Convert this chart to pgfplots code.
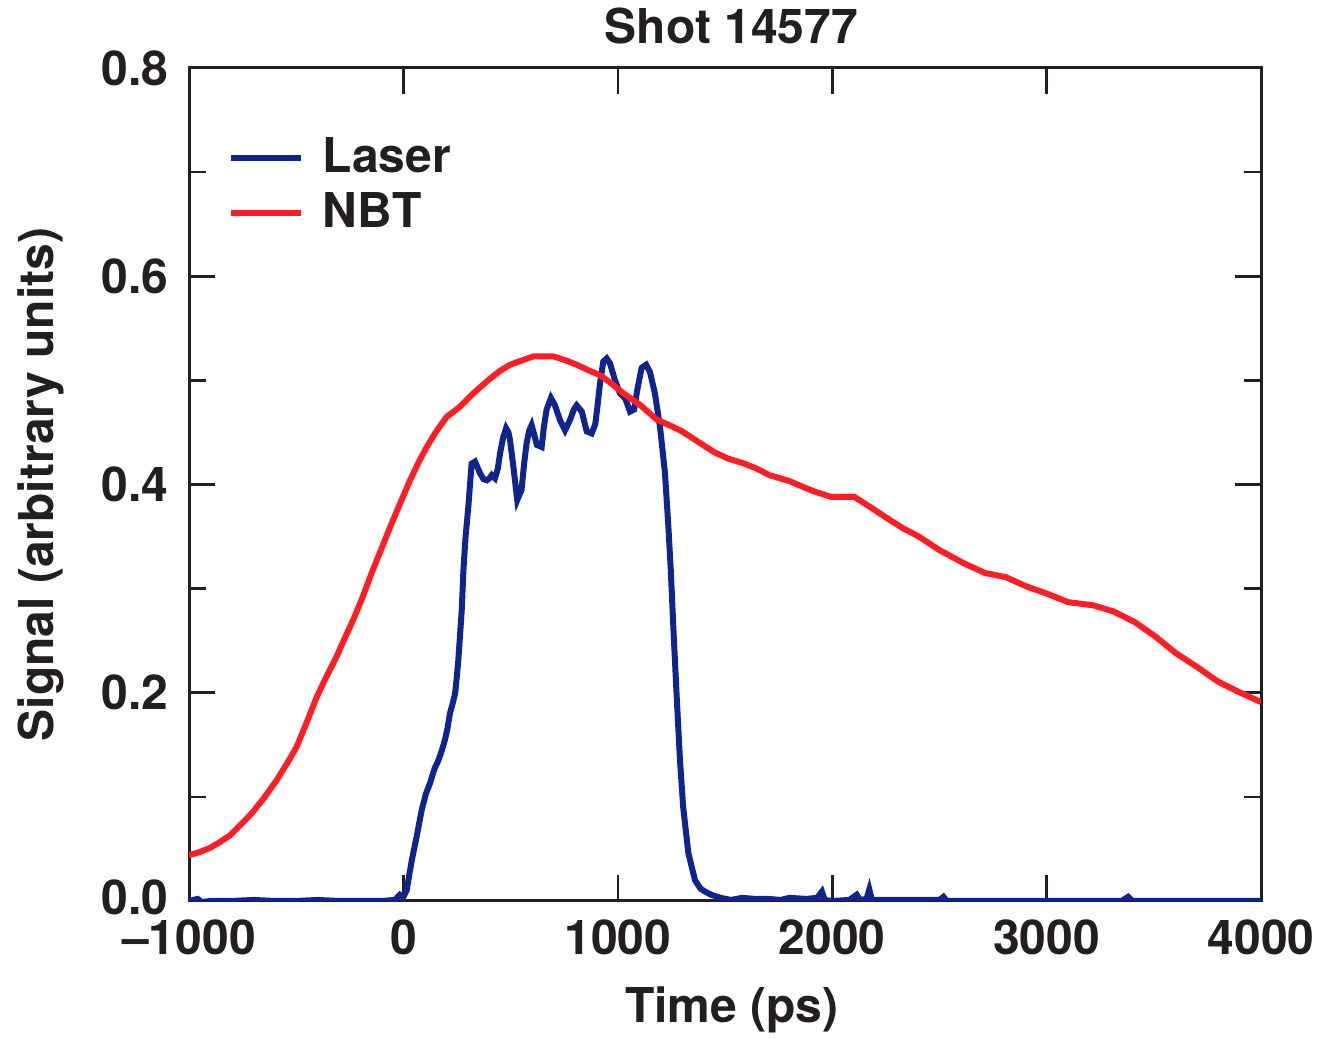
\documentclass[border=0pt]{standalone}
\usepackage{fontspec}
\setmainfont{TeX Gyre Heros}
\usepackage{pgfplots}
\pgfplotsset{compat=1.18}
\definecolor{laser}{RGB}{16,36,142}
\definecolor{nbt}{RGB}{255,30,36}
\definecolor{axisgray}{RGB}{35,31,32}
\begin{document}
\begin{tikzpicture}
\begin{axis}[
  scale only axis,
  width=268pt, height=208.25pt,
  xmin=-1000, xmax=4000, ymin=0, ymax=0.8,
  axis line style={axisgray, line width=0.75pt},
  every tick/.style={axisgray, line width=0.65pt},
  tick align=inside,
  xtick={-1000,0,1000,2000,3000,4000},
  xticklabels={\textendash1000,0,1000,2000,3000,4000},
  ytick={0,0.2,0.4,0.6,0.8},
  yticklabels={\raisebox{2pt}{0.0},0.2,0.4,0.6,0.8},
  minor ytick={0.1,0.3,0.5,0.7},
  major tick length=6.5pt,
  minor tick length=4.25pt,
  /pgf/number format/assume math mode=true,
  tick label style={font=\bfseries\fontsize{12}{14}\selectfont, text=axisgray},
  xticklabel style={yshift=-1.2pt},
  yticklabel style={xshift=-1.6pt},
  title={Shot 14577},
  title style={font=\bfseries\fontsize{12}{14}\selectfont, text=axisgray, at={(axis description cs:0.506,1.0009)}, anchor=base},
  xlabel={Time (ps)},
  xlabel style={font=\bfseries\fontsize{12}{14}\selectfont, text=axisgray, at={(axis description cs:0.5065,-0.1461)}, anchor=base},
  ylabel={Signal (arbitrary units)},
  ylabel style={font=\bfseries\fontsize{12}{14}\selectfont, text=axisgray, at={(axis description cs:-0.138,0.5)}, anchor=center, rotate=0},
  legend style={at={(axis description cs:0.0354,0.917)}, anchor=north west, draw=none, fill=none, inner sep=0pt, row sep=3.3pt, column sep=4.75pt, font=\bfseries\fontsize{12}{14}\selectfont, text=axisgray, nodes={inner sep=0pt}},
  legend cell align=left,
  legend image code/.code={\draw[#1] (0pt,0pt) -- (17.5pt,0pt);},
]
\coordinate (bl) at (rel axis cs:0,0);
\coordinate (tr) at (rel axis cs:1,1);
\addplot[laser, line width=1.5pt] coordinates {
(-1000,0.000) (-960,0.002) (-940,-0.001) (-900,0.000) (-800,0.000) (-700,0.001)
(-600,0.000) (-500,0.000) (-400,0.001) (-300,0.000) (-200,0.000) (-100,0.000)
(-40,0.001) (-16,0.006) (0,0.004) (15,0.010) (39,0.039) (62,0.062) (85,0.087)
(105,0.103) (124,0.113) (145,0.127) (163,0.135) (180,0.145) (194,0.155)
(205,0.165) (217,0.180) (230,0.190) (241,0.199) (249,0.215) (256,0.231)
(264,0.255) (272,0.279) (280,0.318) (290,0.350) (303,0.379) (318,0.420)
(334,0.422) (357,0.411) (374,0.405) (389,0.404) (402,0.406) (412,0.409)
(427,0.406) (440,0.415) (451,0.430) (465,0.445) (479,0.454) (490,0.450)
(497,0.443) (513,0.417) (531,0.385) (551,0.395) (563,0.420) (575,0.440)
(587,0.452) (598,0.457) (610,0.448) (622,0.438) (645,0.436) (655,0.455)
(668,0.472) (688,0.483) (707,0.476) (730,0.462) (754,0.452) (777,0.462)
(795,0.472) (808,0.476) (832,0.470) (855,0.451) (878,0.449) (895,0.458)
(905,0.475) (917,0.497) (932,0.518) (948,0.521) (964,0.516) (987,0.500)
(1010,0.4875) (1034,0.483) (1057,0.470) (1076,0.472) (1091,0.491) (1111,0.512)
(1132,0.515) (1150,0.508) (1173,0.4875) (1197,0.455) (1220,0.411) (1236,0.359)
(1247,0.318) (1259,0.263) (1274,0.199) (1290,0.135) (1305,0.090) (1329,0.046)
(1360,0.020) (1385,0.012) (1407,0.009) (1435,0.006) (1480,0.003) (1528,0.001)
(1580,0.003) (1640,0.002) (1700,0.002) (1760,0.001) (1800,0.003) (1880,0.002)
(1930,0.003) (1952,0.009) (1965,0.001) (2000,0.000) (2080,0.001) (2114,0.006)
(2130,0.001) (2160,0.002) (2173,0.011) (2185,0.001) (2300,0.001) (2400,0.001)
(2500,0.001) (2519,0.004) (2535,0.000) (2700,0.000) (3000,0.000) (3350,0.000)
(3380,0.004) (3400,0.000) (3700,0.000) (4000,0.000)
};
\addlegendentry{Laser}
\addplot[nbt, line width=1.5pt] coordinates {
(-1000,0.044) (-950,0.047) (-902,0.051) (-860,0.056) (-809,0.063) (-760,0.073)
(-708,0.084) (-650,0.099) (-591,0.116) (-540,0.133) (-498,0.148) (-450,0.172)
(-404,0.196) (-360,0.215) (-311,0.235) (-270,0.254) (-234,0.270) (-190,0.292)
(-148,0.315) (-105,0.337) (-62,0.359) (-15,0.382) (31,0.404) (70,0.421)
(109,0.436) (150,0.450) (202,0.465) (260,0.474) (326,0.4875) (400,0.501)
(450,0.509) (497,0.515) (550,0.519) (606,0.523) (650,0.523) (700,0.523)
(760,0.519) (808,0.515) (860,0.510) (917,0.505) (970,0.497) (1026,0.4875)
(1100,0.477) (1184,0.462) (1240,0.457) (1300,0.451) (1397,0.438) (1450,0.431)
(1513,0.425) (1591,0.420) (1650,0.415) (1707,0.409) (1804,0.403) (1860,0.398)
(1920,0.393) (1997,0.388) (2104,0.388) (2180,0.378) (2268,0.366) (2330,0.358)
(2404,0.350) (2500,0.337) (2617,0.324) (2713,0.315) (2810,0.311) (2907,0.302)
(3004,0.295) (3100,0.287) (3216,0.284) (3313,0.278) (3410,0.268) (3507,0.254)
(3603,0.238) (3700,0.225) (3797,0.211) (3894,0.201) (4000,0.191)
};
\addlegendentry{NBT}
\end{axis}
\pgfresetboundingbox
\path[use as bounding box] ([shift={(-47.25pt,-34.25pt)}]bl) rectangle ([shift={(15pt,17pt)}]tr);
\end{tikzpicture}
\end{document}
